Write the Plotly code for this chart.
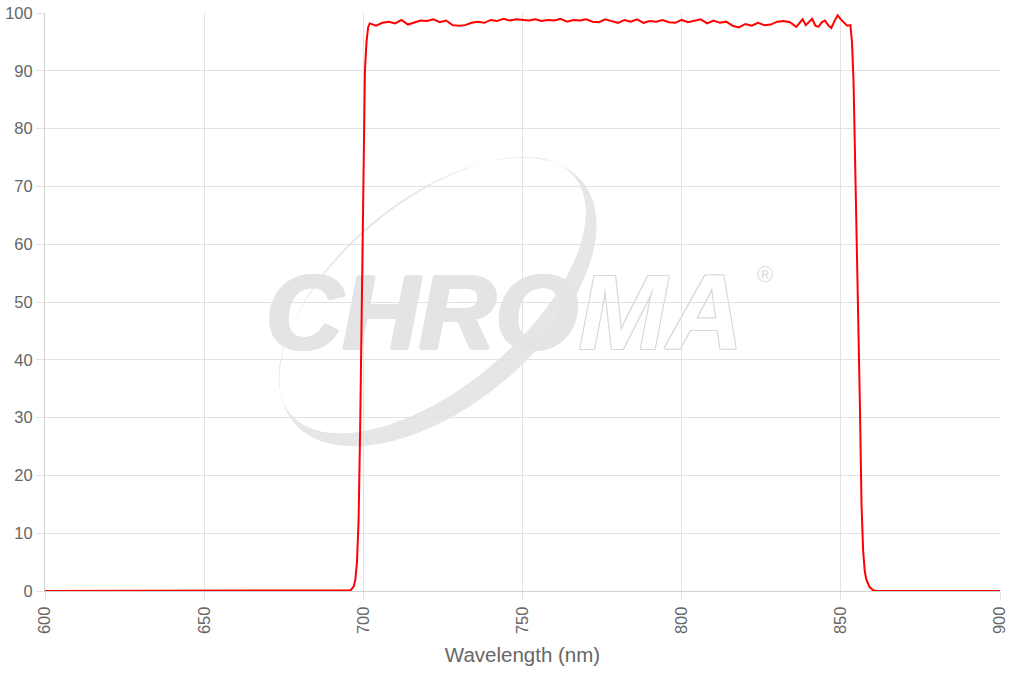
import math
import plotly.graph_objects as go

# ---- data ----
wavelength_nm = [
    600, 650, 695, 696, 697, 697.5, 698, 698.5, 699, 699.5, 700, 700.5, 701, 701.5, 702, 703,
    704, 706, 708, 710, 712, 714, 716, 718, 720, 722, 724, 726, 728, 730, 732, 734, 736, 738,
    740, 742, 744, 746, 748, 750, 752, 754, 756, 758, 760, 762, 764, 766, 768, 770, 772, 774,
    776, 778, 780, 782, 784, 786, 788, 790, 792, 794, 796, 798, 800, 802, 804, 806, 808, 810,
    812, 814, 816, 818, 820, 822, 824, 826, 828, 830, 832, 834, 836, 837, 838, 839, 840, 841,
    842, 843, 844, 845, 846, 847, 848, 849, 850, 851, 852, 853, 853.5, 854, 854.5, 855, 855.5,
    856, 856.5, 857, 857.5, 858, 859, 860, 861, 880, 900,
]
transmission_pct = [
    0, 0, 0, 0.1, 0.8, 2, 5, 12, 28, 52, 75, 90, 95, 97.5, 98.2, 98.0,
    97.8, 98.3, 98.5, 98.2, 98.8, 98.0, 98.3, 98.7, 98.6, 98.9, 98.4, 98.7, 97.9, 97.8, 97.9, 98.3, 98.5, 98.3,
    98.8, 98.6, 99.0, 98.7, 98.9, 98.8, 98.7, 98.9, 98.6, 98.8, 98.7, 99.0, 98.5, 98.8, 98.7, 98.9, 98.5, 98.4,
    98.9, 98.6, 98.3, 98.8, 98.5, 98.9, 98.3, 98.6, 98.5, 98.8, 98.4, 98.3, 98.8, 98.4, 98.6, 98.9, 98.2, 98.7,
    98.3, 98.5, 97.8, 97.5, 98.1, 97.8, 98.3, 97.9, 98.0, 98.5, 98.6, 98.4, 97.6, 98.3, 98.9, 97.9, 98.5, 99.0,
    97.8, 97.6, 98.4, 98.7, 97.9, 97.4, 98.6, 99.6, 98.9, 98.3, 97.8, 97.9, 95, 88, 75, 60, 48,
    32, 15, 7, 3.5, 2, 0.7, 0.2, 0, 0, 0,
]
x_ticks = [600, 650, 700, 750, 800, 850, 900]
y_ticks = [0, 10, 20, 30, 40, 50, 60, 70, 80, 90, 100]
x_title = "Wavelength (nm)"

# ---- geometry helpers for the decorative watermark ----
L, R, T, B = 45, 1000, 13, 591
W, H = 1024, 675


def px2paper(px, py):
    return (px - L) / (R - L), (B - py) / (B - T)


def ellipse_pts(cx, cy, a, b, ang_deg, n=120, reverse=False):
    th = math.radians(ang_deg)
    pts = []
    rng = range(n) if not reverse else range(n - 1, -1, -1)
    for i in rng:
        t = 2 * math.pi * i / n
        ex, ey = a * math.cos(t), b * math.sin(t)
        px = cx + ex * math.cos(th) + ey * math.sin(th)
        py = cy - ex * math.sin(th) + ey * math.cos(th)
        pts.append(px2paper(px, py))
    return pts


def path_from(pts):
    return "M " + " L ".join(f"{x:.5f},{y:.5f}" for x, y in pts) + " Z"


cx, cy = 438, 302
ang = 40
d = 9
ux, uy = math.sin(math.radians(ang)), math.cos(math.radians(ang))  # minor axis dir (down-right)
outer = ellipse_pts(cx, cy, 188, 103, ang)
inner = ellipse_pts(cx - ux * d, cy - uy * d, 185, 92, ang, reverse=True)
crescent = path_from(outer) + " " + path_from(inner)

fig = go.Figure()
fig.add_trace(go.Scatter(
    x=wavelength_nm, y=transmission_pct, mode="lines",
    line=dict(color="#ff0000", width=2), hoverinfo="x+y", showlegend=False,
))

shapes = [
    dict(type="path", xref="paper", yref="paper", path=crescent, layer="below",
         fillcolor="#e6e6e6", line=dict(width=0)),
]


def text_shape(x0, y0, x1, y1, text, font):
    a0 = px2paper(x0, y1)
    a1 = px2paper(x1, y0)
    return dict(type="rect", xref="paper", yref="paper", x0=a0[0], y0=a0[1], x1=a1[0], y1=a1[1],
                layer="below", line=dict(width=0), fillcolor="rgba(0,0,0,0)",
                label=dict(text=text, font=font, textposition="middle center"))


g = "#e4e4e4"
bold_shadow = ", ".join(f"{dx}px {dy}px 0 {g}" for dx, dy in
                        [(1, 0), (2, 0), (3, 0), (-1, 0), (0, 1), (0, -1), (1, 1), (2, 1), (1, -1), (2, -1)])
shapes.append(text_shape(270, 255, 572, 348, "CHRO",
                         dict(family="Liberation Sans, Arial", size=106, color=g,
                              style="italic", weight="bold", shadow=bold_shadow)))
o = "#d8d8d8"
shapes.append(text_shape(580, 255, 742, 348, "MA",
                         dict(family="Liberation Sans, Arial", size=106, color="#ffffff",
                              style="italic", weight="bold",
                              shadow=f"1px 1px 0 {o}, -1px -1px 0 {o}, 1px -1px 0 {o}, -1px 1px 0 {o}")))
shapes.append(text_shape(752, 260, 778, 284, "®",
                         dict(family="Liberation Sans, Arial", size=22, color="#dedede")))

fig.update_layout(
    width=W, height=H,
    margin=dict(l=L, r=W - R, t=T, b=H - B),
    paper_bgcolor="white", plot_bgcolor="white",
    font=dict(family="Liberation Sans, Arial, sans-serif", color="#666666"),
    shapes=shapes,
    showlegend=False,
)
fig.update_xaxes(
    range=[600, 900], tickvals=x_ticks, tickangle=-90,
    tickfont=dict(size=16.5, color="#666666"),
    showgrid=True, gridcolor="#e2e2e2", gridwidth=1,
    ticks="outside", ticklen=8, tickcolor="#e2e2e2",
    showline=True, linecolor="#d0d0d0", linewidth=1,
    zeroline=False, automargin=False,
    title=dict(text=x_title, font=dict(size=20.5, color="#666666"), standoff=14),
)
fig.update_yaxes(
    range=[0, 100], tickvals=y_ticks,
    tickfont=dict(size=16.5, color="#666666"),
    showgrid=True, gridcolor="#e2e2e2", gridwidth=1,
    ticks="outside", ticklen=8, tickcolor="#e2e2e2",
    showline=True, linecolor="#d0d0d0", linewidth=1,
    zeroline=False, automargin=False,
)

fig.write_html("out.html")
